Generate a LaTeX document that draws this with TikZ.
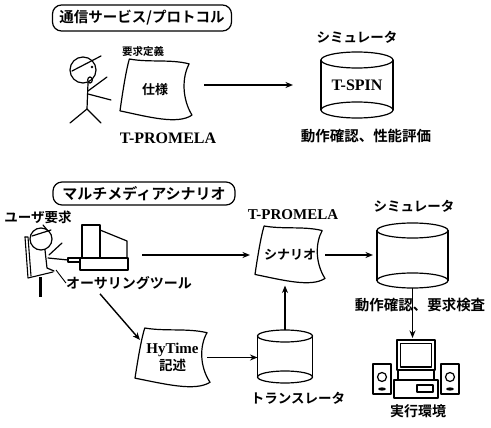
\documentclass[tikz,border=0pt]{standalone}
\usepackage{fontspec}
\setmainfont{Liberation Serif}
\newfontfamily\jp{Noto Sans CJK JP}[BoldFont={Noto Sans CJK JP Bold}]
\usetikzlibrary{arrows.meta}

\newcommand\jpfont[1]{\jp\bfseries\fontsize{#1}{#1}\selectfont}
\newcommand\latinfont[1]{\rmfamily\bfseries\fontsize{#1}{#1}\selectfont}

\tikzset{
  ink/.style={line width=1.2pt, line join=round, line cap=round},
  flow/.style={line width=1.4pt, -{Stealth[length=7.5pt,width=6pt]}},
  tagbox/.style={draw, ink, rounded corners=9pt, inner sep=0pt},
  shapebox/.style={inner sep=0pt, outer sep=0pt},
  lbl/.style={inner sep=0pt},
  pics/wavydoc/.style={code={
    \draw[ink] (-0.37,-0.5) .. controls (-0.1,-0.44) and (0.2,-0.5) .. (0.46,-0.42)
      .. controls (0.36,-0.2) and (0.36,0.15) .. (0.5,0.42)
      .. controls (0.3,0.58) and (-0.1,0.45) .. (-0.5,0.35)
      .. controls (-0.47,0.1) and (-0.42,-0.3) .. (-0.37,-0.5);
  }},
  pics/drum/.style args={#1/#2/#3}{code={
    \draw[ink] ({-#1/2},{-#2/2+#3}) -- ({-#1/2},{#2/2-#3})
               ({#1/2},{-#2/2+#3}) -- ({#1/2},{#2/2-#3});
    \draw[ink] (0,{-#2/2+#3}) ellipse [x radius={#1*0.5pt}, y radius={#3*1pt}];
    \draw[ink] (0,{#2/2-#3}) ellipse [x radius={#1*0.5pt}, y radius={#3*1pt}];
  }},
}

\begin{document}
\begin{tikzpicture}[x=1pt,y=-1pt]
\useasboundingbox (0,0) rectangle (491,428);

% ---------- upper part: service / protocol ----------
\node[tagbox, minimum width=179pt, minimum height=26pt, font=\jpfont{14.5}] (tag1) at (142,18) {通信サービス/プロトコル};

% standing person
\draw[ink] (83,70) circle [radius=13pt];
\draw[ink] (72,71) -- (101,56);
\fill (92,67) circle [radius=1.3pt];
\draw[ink] (90,80) ellipse [x radius=2.3pt, y radius=3pt];
\draw[ink] (88,83) -- (87,109);
\draw[ink] (88,91) -- (107,77);
\draw[ink] (88,94) -- (111,100);
\draw[ink] (87,109) -- (70,123);
\draw[ink] (87,109) -- (101,123);

% specification document
\node[lbl, font=\jpfont{10.5}] (req) at (143,52) {要求定義};
\pic[xscale=72,yscale=61] at (156,89.5) {wavydoc};
\node[shapebox, minimum width=72pt, minimum height=61pt, font=\jpfont{13}] (spec) at (155,89.5) {仕様};
\node[lbl, font=\latinfont{16}] (prom1) at (168,138) {T-PROMELA};

% simulator T-SPIN
\node[lbl, font=\jpfont{13.5}] (simlab1) at (357,37) {シミュレータ};
\pic at (357,85) {drum=72/66/8};
\node[shapebox, minimum width=72pt, minimum height=66pt, font=\latinfont{16}] (tspin) at (357,85) {T-SPIN};
\node[lbl, font=\jpfont{14.5}] (eval1) at (366,136) {動作確認、性能評価};

\draw[flow] ([xshift=13pt]spec.east |- tspin.west) -- ([xshift=-28pt]tspin.west);

% ---------- lower part: multimedia scenario ----------
\node[tagbox, minimum width=182pt, minimum height=23pt, font=\jpfont{15}] (tag2) at (144,193.5) {マルチメディアシナリオ};

\node[lbl, font=\jpfont{13.5}] (user) at (38,217) {ユーザ要求};

% seated person with chair
\draw[ink] (41,239) circle [radius=11pt];
\draw[ink] (32,236) -- (51,230);
\draw[ink] (43,225) -- (48,231);
\draw[ink] (45,250) -- (47,268) -- (54,271);
\draw[ink] (49,255) -- (62,243);
\draw[ink] (48,258) -- (68,260);
\draw[ink, line width=1.1pt] (25,237) -- (28,278) -- (53,272);
\draw[ink, line width=1.1pt] (25,237) -- (28,237) -- (31,276);
\draw[line width=3pt] (40,277) -- (40,297);
\coordinate (lead) at (56,270);

% authoring computer
\draw[ink] (82,225) rectangle (100,258);
\draw[ink] (100,230) -- (127,241) -- (127,258);
\draw[ink] (80,258) rectangle (128,270);
\draw[ink] (68,258) rectangle (80,262);
\node[shapebox, minimum width=60pt, minimum height=45pt] (pc) at (98,247.5) {};

\node[lbl, font=\jpfont{14}] (auth) at (129,283) {オーサリングツール};
\draw[line width=0.9pt] (lead) -- (auth.west);

% HyTime document
\pic[xscale=75,yscale=59] at (172.5,357.5) {wavydoc};
\node[shapebox, minimum width=75pt, minimum height=59pt, align=center] (hyt) at (172.5,357.5)
  {{\latinfont{15}HyTime}\\[1pt]{\jpfont{13.5}記述}};

% translator
\pic at (285,356.5) {drum=55/53/6};
\node[shapebox, minimum width=55pt, minimum height=53pt] (trans) at (285,356.5) {};
\node[lbl, font=\jpfont{13.5}] (translab) at (298,398) {トランスレータ};

% scenario document
\node[lbl, font=\latinfont{15}] (prom2) at (293,215) {T-PROMELA};
\pic[xscale=70,yscale=57] at (290,254.5) {wavydoc};
\node[shapebox, minimum width=70pt, minimum height=57pt, font=\jpfont{13}] (scen) at (290,255) {シナリオ};

% simulator
\node[lbl, font=\jpfont{13.5}] (simlab2) at (414,206) {シミュレータ};
\pic at (412.5,255.5) {drum=71/65/7.5};
\node[shapebox, minimum width=71pt, minimum height=65pt] (sim) at (412.5,255.5) {};

\node[lbl, font=\jpfont{14.5}] (eval2) at (420,305) {動作確認、要求検査};

% execution environment
\draw[ink] (397,340) rectangle (435,370);
\draw[ink] (400.5,343.5) rectangle (431.5,367);
\draw[ink] (398,370) rectangle (434,380);
\draw[ink] (394,380) rectangle (438,398);
\draw[ink] (417,385) rectangle (433,392);
\draw[ink] (373,364) rectangle (391,394);
\draw[ink] (382,377) circle [radius=4.5pt];
\fill (382,389) ellipse [x radius=4pt, y radius=1.6pt];
\draw[ink] (441,364) rectangle (459,394);
\draw[ink] (450,377) circle [radius=4.5pt];
\fill (450,389) ellipse [x radius=4pt, y radius=1.6pt];
\node[shapebox, minimum width=86pt, minimum height=58pt] (exec) at (416,369) {};
\node[lbl, font=\jpfont{14}] (execlab) at (418,411) {実行環境};

% connectors
\draw[flow] ([xshift=14pt]pc.east |- scen.west) -- ([xshift=-5pt]scen.west);
\draw[flow, shorten >=4pt] (scen.east) -- (sim.west |- scen.east);
\draw[flow] ([xshift=-29pt,yshift=-4pt]auth.south) -- ([xshift=5pt,yshift=-12pt]hyt.north west);
\draw[flow] ([xshift=-3pt]hyt.east) -- (trans.west |- hyt.east);
\draw[flow, shorten >=2pt] (trans.north) -- (trans.north |- scen.south);
\draw[flow, shorten >=2pt] (sim.south) -- (sim.south |- exec.north);

\end{tikzpicture}
\end{document}
